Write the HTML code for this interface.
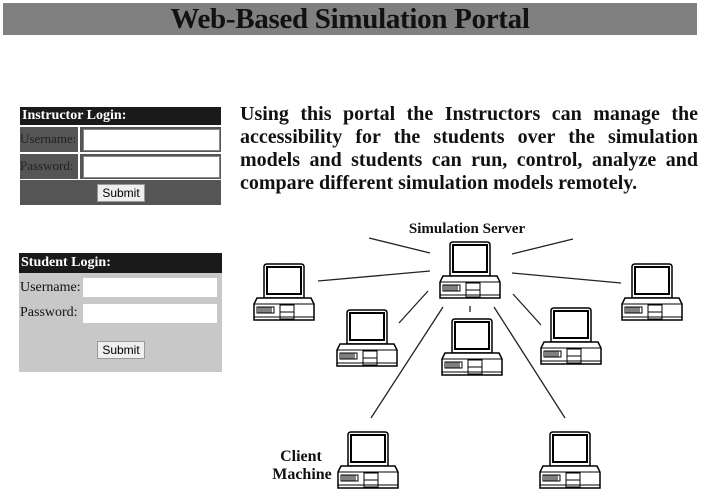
<!DOCTYPE html>
<html><head><meta charset="utf-8"><style>
html,body{margin:0;padding:0;background:#fff;width:702px;height:495px;overflow:hidden;position:relative;font-family:"Liberation Serif",serif}
.abs{position:absolute}
.title{left:3px;top:3px;width:694px;height:32px;background:#808080;text-align:center;font-weight:bold;font-size:29px;line-height:33px;color:#111;letter-spacing:-0.3px}
.para{left:240px;top:103px;width:458px;font-weight:bold;font-size:20px;line-height:23px;text-align:justify;text-align-last:left;color:#111}
.hdr{background:#1a1a1a;color:#fff;font-weight:bold;font-size:14px;padding-left:2px}
.inp{background:#fff;position:absolute}
.btn{position:absolute;background:#eee;border:1px solid #999;font-family:"Liberation Sans",sans-serif;font-size:12px;text-align:center;line-height:16px;color:#000}
.lbl{position:absolute;font-size:14px}
</style></head><body>
<div class="abs title">Web-Based Simulation Portal</div>
<div class="abs para">Using this portal the Instructors can manage the accessibility for the students over the simulation models and students can run, control, analyze and compare different simulation models remotely.</div>

<!-- instructor -->
<div class="abs" style="left:20px;top:107px;width:201px;height:98px;background:#fff">
 <div class="hdr abs" style="left:0;top:0;width:199px;height:18px;line-height:18px">Instructor Login:</div>
 <div class="abs" style="left:0;top:20px;width:58px;height:25px;background:#555"></div>
 <div class="abs" style="left:60px;top:20px;width:141px;height:25px;background:#555"></div>
 <div class="abs" style="left:0;top:47px;width:58px;height:25px;background:#555"></div>
 <div class="abs" style="left:60px;top:47px;width:141px;height:25px;background:#555"></div>
 <div class="abs" style="left:0;top:73px;width:201px;height:25px;background:#555"></div>
 <div class="lbl" style="left:0;top:24px;color:#222;font-size:13px">Username:</div>
 <div class="lbl" style="left:0;top:51px;color:#222;font-size:13px">Password:</div>
 <div class="inp" style="left:63px;top:22px;width:135px;height:20px;border:1px solid #888"></div>
 <div class="inp" style="left:63px;top:49px;width:135px;height:20px;border:1px solid #888"></div>
 <div class="btn" style="left:77px;top:77px;width:46px;height:16px">Submit</div>
</div>

<!-- student -->
<div class="abs" style="left:19px;top:253px;width:203px;height:119px;background:#c8c8c8">
 <div class="hdr abs" style="left:0;top:0;width:201px;height:20px;line-height:20px">Student Login:</div>
 <div class="lbl" style="left:1px;top:27px;color:#111">Username:</div>
 <div class="lbl" style="left:1px;top:52px;color:#111">Password:</div>
 <div class="inp" style="left:64px;top:25px;width:134px;height:19px"></div>
 <div class="inp" style="left:64px;top:51px;width:134px;height:19px"></div>
 <div class="btn" style="left:78px;top:88px;width:46px;height:16px">Submit</div>
</div>

<svg class="abs" style="left:0;top:0" width="702" height="495">
<defs>
<g id="pc">
 <path d="M10,26 L10,3 Q10,0 13,0 L47,0 Q50,0 50,3 L50,34 L10,34 Z" fill="#fff" stroke="#000" stroke-width="1.5"/>
 <rect x="13" y="3" width="34" height="27" fill="#fff" stroke="#000" stroke-width="2"/>
 <path d="M3,34 L57,34 L60,40 L60,56 L0,56 L0,40 Z" fill="#fff" stroke="#000" stroke-width="1.5"/>
 <line x1="0" y1="40" x2="60" y2="40" stroke="#000"/>
 <line x1="0" y1="53" x2="60" y2="53" stroke="#000"/>
 <rect x="3" y="43" width="17" height="6" fill="none" stroke="#000"/>
 <path d="M5,43v6M7,43v6M9,43v6M11,43v6M13,43v6M15,43v6M17,43v6" stroke="#000"/>
 <rect x="26" y="41" width="14" height="14" fill="none" stroke="#000"/>
 <line x1="26" y1="48" x2="40" y2="48" stroke="#000"/>
</g>
</defs>
<g stroke="#222" stroke-width="1.3">
<line x1="369" y1="238" x2="430" y2="253"/>
<line x1="318" y1="281" x2="430" y2="271"/>
<line x1="399" y1="323" x2="428" y2="291"/>
<line x1="443" y1="307" x2="371" y2="418"/>
<line x1="470" y1="306" x2="470" y2="312"/>
<line x1="494" y1="307" x2="565" y2="418"/>
<line x1="513" y1="294" x2="541" y2="325"/>
<line x1="512" y1="273" x2="621" y2="283"/>
<line x1="512" y1="254" x2="573" y2="239"/>
</g>
<use href="#pc" x="440" y="242"/>
<use href="#pc" x="254" y="264"/>
<use href="#pc" x="622" y="264"/>
<use href="#pc" x="337" y="310"/>
<use href="#pc" x="442" y="319"/>
<use href="#pc" x="541" y="308"/>
<use href="#pc" x="338" y="432"/>
<use href="#pc" x="540" y="432"/>
<text x="467" y="233" text-anchor="middle" font-family="Liberation Serif,serif" font-weight="bold" font-size="15" fill="#111">Simulation Server</text>
<text x="301" y="461" text-anchor="middle" font-family="Liberation Serif,serif" font-weight="bold" font-size="16" fill="#111">Client</text>
<text x="302" y="479" text-anchor="middle" font-family="Liberation Serif,serif" font-weight="bold" font-size="16" fill="#111">Machine</text>
</svg>
</body></html>
